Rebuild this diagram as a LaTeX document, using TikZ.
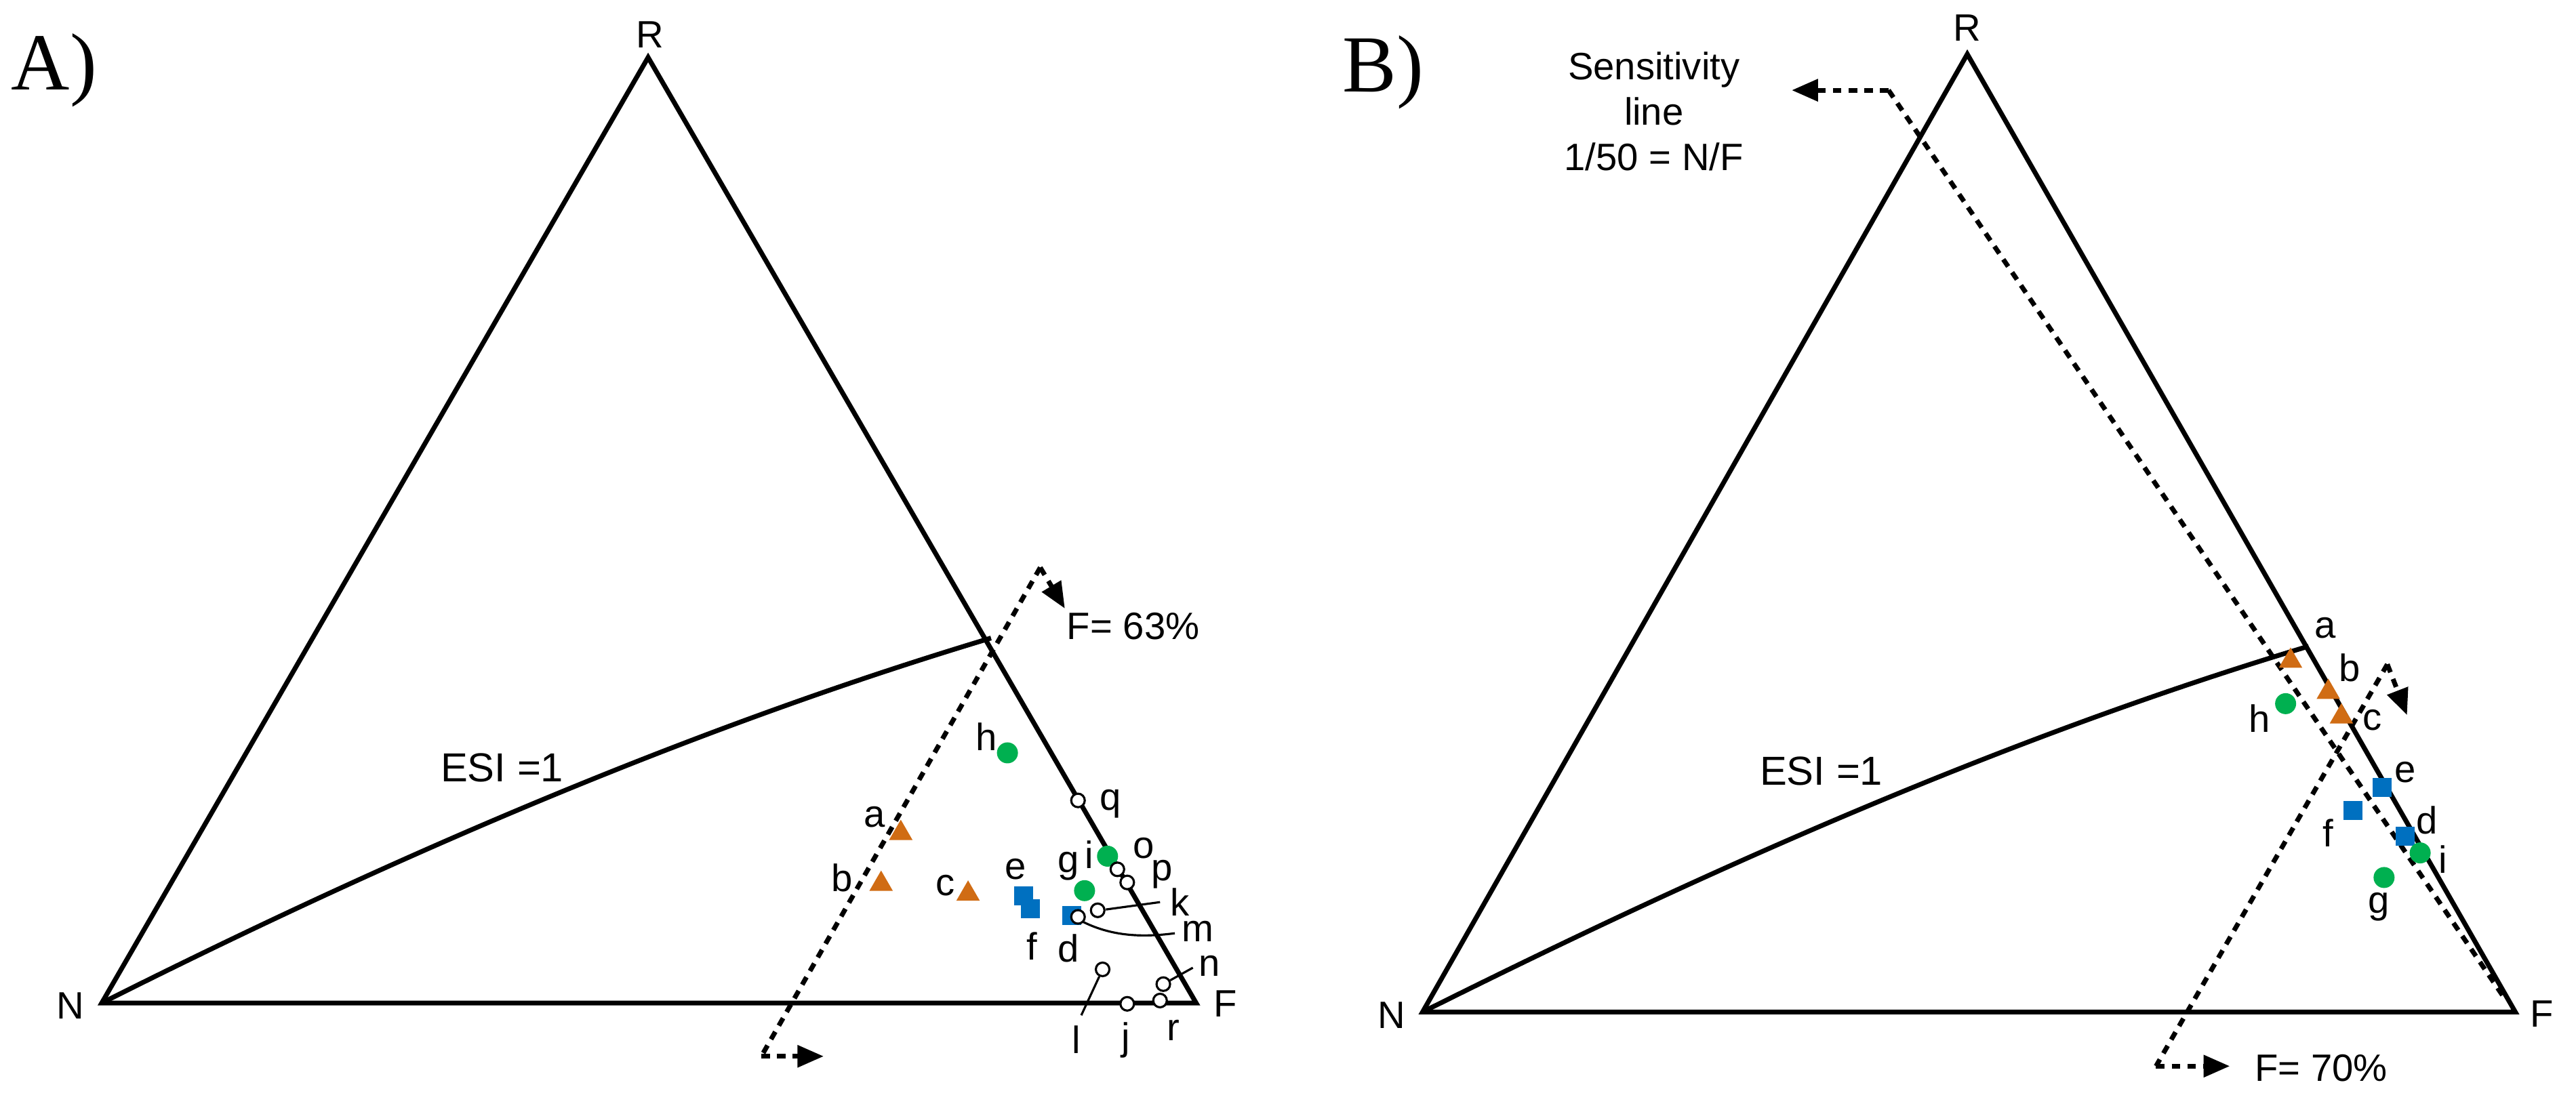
\documentclass[tikz,border=0pt]{standalone}
\usepackage{fontspec}
\setmainfont{Liberation Sans}
\newfontfamily\serifpanel{Liberation Serif}
\usetikzlibrary{arrows.meta,shapes.geometric}
\definecolor{tri}{RGB}{208,108,20}
\definecolor{grn}{RGB}{0,176,80}
\definecolor{blu}{RGB}{0,112,192}
\begin{document}
\begin{tikzpicture}[x=0.0242cm,y=-0.0242cm,
  edge/.style={line width=2pt,line join=miter},
  dsh/.style={line width=2pt,dash pattern=on 3.6pt off 3pt},
  arr/.style={-{Triangle[length=11pt,width=9pt]}},
  lab/.style={font=\fontsize{16}{18}\selectfont,inner sep=0pt},
  panel/.style={font=\serifpanel\fontsize{34}{36}\selectfont,inner sep=0pt},
  tr/.style={regular polygon,regular polygon sides=3,fill=tri,draw=none,minimum size=0.4cm,inner sep=0pt},
  gd/.style={circle,fill=grn,draw=none,minimum size=0.31cm,inner sep=0pt},
  bs/.style={rectangle,fill=blu,draw=none,minimum size=0.28cm,inner sep=0pt},
  oc/.style={circle,fill=white,draw=black,line width=0.9pt,minimum size=0.2cm,inner sep=0pt},
  lead/.style={line width=0.9pt}]
\useasboundingbox (0,0) rectangle (1570,676.4);
% ---------- Panel A ----------
\coordinate (AN) at (62,611.5);
\coordinate (AR) at (395,35);
\coordinate (AF) at (729,611.5);
\coordinate (AE) at (604,389);
\node[panel] (Alab) at (33,43) {A)};
\node[lab] (ARl) at (396,21) {R};
\node[lab] (ANl) at (43,613) {N};
\node[lab] (AFl) at (747,612) {F};
\draw[edge] (AN) -- (AR) -- (AF) -- cycle;
\draw[edge] (AN) .. controls (242,521) and (424,443) .. (AE);
\node[lab,font=\fontsize{17}{19}\selectfont] (Aesi) at (306,468) {ESI =1};
\coordinate (Ad1) at (464,644);
\coordinate (Ad2) at (634,346);
\coordinate (Ad3) at (649,371);
\coordinate (Ad4) at (502,644);
\draw[dsh] (Ad2) -- (Ad1);
\draw[dsh,arr] (Ad1) -- (Ad4);
\draw[dsh,arr] (Ad2) -- (Ad3);
\node[lab,anchor=west] (A63) at (650,382) {F= 63\%};
% leaders
\coordinate (Ak1) at (707,550);
\coordinate (Am1) at (716,569);
\coordinate (An1) at (727,590);
\coordinate (Al1) at (659,619);
% points
\node[gd] (Ah) at (614,459) {};
\node[lab] (Ahl) at (601,449) {h};
\node[oc] (Aq) at (657,488) {};
\node[lab] (Aql) at (677,490) {q};
\node[tr] (Aa) at (549,508) {};
\node[lab] (Aal) at (533,498) {a};
\node[tr] (Ab) at (537,539) {};
\node[lab] (Abl) at (513,535) {b};
\node[tr] (Ac) at (590,545) {};
\node[lab] (Acl) at (576,540) {c};
\node[bs] (Ae) at (624,546) {};
\node[bs] (Af) at (628,554) {};
\node[lab] (Ael) at (619,530) {e};
\node[lab] (Afl) at (629,577) {f};
\node[bs] (Ad) at (653,558) {};
\node[lab] (Adl) at (651,578) {d};
\node[gd] (Ai) at (675,522) {};
\node[lab] (Ail) at (664,521) {i};
\node[gd] (Ag) at (661,543) {};
\node[lab] (Agl) at (651,528) {g};
\node[oc] (Ao) at (681,530) {};
\node[lab] (Aol) at (697,517) {o};
\node[oc] (Ap) at (687,538) {};
\node[lab] (Apl) at (708,533) {p};
\node[oc] (Ak) at (669,555) {};
\node[lab] (Akl) at (719,550) {k};
\node[oc] (Am) at (657,559) {};
\node[lab] (Aml) at (730,568) {m};
\node[oc] (Al) at (672,591) {};
\node[lab] (All) at (656,634) {l};
\node[oc] (Aj) at (687,612) {};
\node[lab] (Ajl) at (686,634) {j};
\node[oc] (Ar1) at (709,600) {};
\node[oc] (Ar2) at (707,610) {};
\node[lab] (Arl) at (715,628) {r};
\node[lab] (Anl) at (737,589) {n};
\draw[lead] (Ak) ++(5,-0.5) -- (Ak1);
\draw[lead] (Am) ++(3,3) .. controls (680,572) and (700,571) .. (Am1);
\draw[lead] (Ar1) -- (An1);
\draw[lead] (Al) -- (Al1);
% ---------- Panel B ----------
\coordinate (BN) at (867,617);
\coordinate (BR) at (1199,33);
\coordinate (BF) at (1533,617);
\coordinate (BE) at (1407,394);
\node[panel] (Blab) at (843,44) {B)};
\node[lab] (BRl) at (1199,17) {R};
\node[lab] (BNl) at (848,619) {N};
\node[lab] (BFl) at (1549,618) {F};
\draw[edge] (BN) -- (BR) -- (BF) -- cycle;
\draw[edge] (BN) .. controls (1047,527) and (1227,448) .. (BE);
\node[lab,font=\fontsize{17}{19}\selectfont] (Besi) at (1110,470) {ESI =1};
\node[lab,align=center] (Bsens) at (1008,68) {Sensitivity\\[1pt]line\\[1pt]1/50 = N/F};
\coordinate (Bs1) at (1151,55);
\coordinate (Bs0) at (1092,55);
\coordinate (Bs2) at (1526,608);
\draw[dsh,arr] (Bs1) -- (Bs0);
\draw[dsh] (Bs1) -- (Bs2);
\coordinate (Bt1) at (1314,650);
\coordinate (Bt2) at (1455,405);
\coordinate (Bt3) at (1467,436);
\coordinate (Bt4) at (1359,650);
\draw[dsh] (Bt2) -- (Bt1);
\draw[dsh,arr] (Bt1) -- (Bt4);
\draw[dsh,arr] (Bt2) -- (Bt3);
\node[lab,anchor=west] (B70) at (1374,651) {F= 70\%};
\node[tr] (Ba) at (1396,403) {};
\node[lab] (Bal) at (1417,383) {a};
\node[tr] (Bb) at (1419,422) {};
\node[lab] (Bbl) at (1432,407) {b};
\node[tr] (Bc) at (1427,437) {};
\node[lab] (Bcl) at (1446,439) {c};
\node[gd] (Bh) at (1393,429) {};
\node[lab] (Bhl) at (1377,438) {h};
\node[bs] (Be) at (1452,480) {};
\node[lab] (Bel) at (1466,471) {e};
\node[bs] (Bf) at (1434,494) {};
\node[lab] (Bfl) at (1419,508) {f};
\node[bs] (Bd) at (1466,510) {};
\node[lab] (Bdl) at (1479,500) {d};
\node[gd] (Bi) at (1475,520) {};
\node[lab] (Bil) at (1489,524) {i};
\node[gd] (Bg) at (1453,535) {};
\node[lab] (Bgl) at (1450,553) {g};
\end{tikzpicture}
\end{document}
